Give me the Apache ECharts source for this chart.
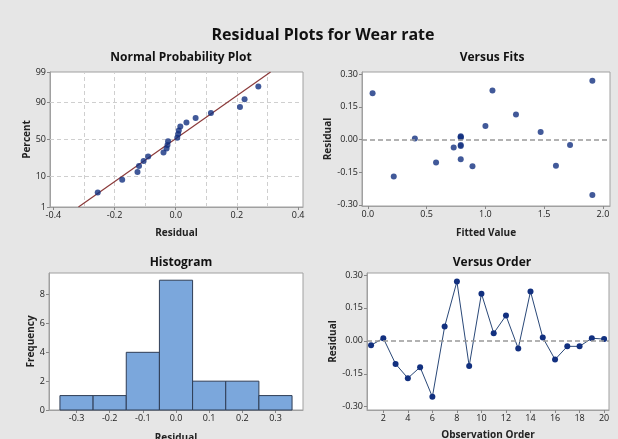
<!DOCTYPE html>
<html><head><meta charset="utf-8">
<script src="https://cdn.jsdelivr.net/npm/echarts@6/dist/echarts.min.js"></script>
<style>html,body{margin:0;padding:0;background:#e6e6e6}#c{width:618px;height:439px}</style>
</head><body><div id="c"></div>
<script>
// ---- data ----
var obsOrder = [1,2,3,4,5,6,7,8,9,10,11,12,13,14,15,16,17,18,19,20];
var residuals = [-0.02,0.012,-0.105,-0.17,-0.12,-0.255,0.065,0.27,-0.115,0.215,0.035,0.115,-0.035,0.225,0.015,-0.085,-0.025,-0.025,0.012,0.008];
var fitted = [0.79,0.79,0.58,0.22,1.60,1.91,1.00,1.91,0.89,0.04,1.47,1.26,0.73,1.06,0.79,0.79,0.79,1.72,0.40,0.79];
var fitsResid = [-0.025,0.012,-0.105,-0.17,-0.12,-0.255,0.062,0.27,-0.123,0.212,0.035,0.115,-0.037,0.225,0.015,-0.09,-0.03,-0.025,0.005,0.008];
var probX = [-0.255,-0.175,-0.125,-0.12,-0.105,-0.09,-0.04,-0.03,-0.027,-0.025,0.005,0.008,0.01,0.015,0.035,0.065,0.115,0.21,0.225,0.27];
var probPct = [3.4,8.3,13.2,18.1,23.0,27.9,32.8,37.7,42.6,47.5,52.5,57.4,62.3,67.2,72.1,77.0,81.9,86.8,91.7,96.6];
var fitLineX = [-0.318, 0.31];
var fitLinePct = [1, 99];
var pctTicks = [1,10,50,90,99];
var probXTicks = [-0.4,-0.2,0.0,0.2,0.4];
var probXGrid = [-0.3,-0.2,-0.1,0.0,0.1,0.2,0.3];
var pctGrid = [10,50,90];
var histCenters = [-0.3,-0.2,-0.1,0.0,0.1,0.2,0.3];
var histCounts = [1,1,4,9,2,2,1];
var histYTicks = [0,2,4,6,8];
var residTicks = [-0.30,-0.15,0.00,0.15,0.30];
var fitTicks = [0.0,0.5,1.0,1.5,2.0];
var orderTicks = [2,4,6,8,10,12,14,16,18,20];

// inverse standard normal CDF (probability-scale transform)
function probit(p){
  p = p/100;
  var a=[-3.969683028665376e+01,2.209460984245205e+02,-2.759285104469687e+02,1.383577518672690e+02,-3.066479806614716e+01,2.506628277459239e+00];
  var b=[-5.447609879822406e+01,1.615858368580409e+02,-1.556989798598866e+02,6.680131188771972e+01,-1.328068155288572e+01];
  var c=[-7.784894002430293e-03,-3.223964580411365e-01,-2.400758277161838e+00,-2.549732539343734e+00,4.374664141464968e+00,2.938163982698783e+00];
  var d=[7.784695709041462e-03,3.224671290700398e-01,2.445134137142996e+00,3.754408661907416e+00];
  var pl=0.02425,q,r;
  if(p<pl){q=Math.sqrt(-2*Math.log(p));return (((((c[0]*q+c[1])*q+c[2])*q+c[3])*q+c[4])*q+c[5])/((((d[0]*q+d[1])*q+d[2])*q+d[3])*q+1);}
  if(p>1-pl){q=Math.sqrt(-2*Math.log(1-p));return -(((((c[0]*q+c[1])*q+c[2])*q+c[3])*q+c[4])*q+c[5])/((((d[0]*q+d[1])*q+d[2])*q+d[3])*q+1);}
  q=p-0.5;r=q*q;
  return (((((a[0]*r+a[1])*r+a[2])*r+a[3])*r+a[4])*r+a[5])*q/(((((b[0]*r+b[1])*r+b[2])*r+b[3])*r+b[4])*r+1);
}

var FONT = '"Open Sans", "Noto Sans", sans-serif';
var labelStyle = {fontFamily: FONT, fontSize: 9, color: '#222'};
var nameStyle = {fontFamily: FONT, fontSize: 10, fontWeight: 'bold', color: '#222'};
var axisLine = {show: true, onZero: false, lineStyle: {color: '#a0a0a0'}};
var tick = function(vals){ return {show: true, length: 3, lineStyle:{color:'#888'}, customValues: vals}; };
var gridLineStyle = {color: '#cfcfcf', type: [4,3], width: 1};
var ptColor = '#12307f';

function makeAxis(gridIndex, min, max, ticks, fmt, name, gap, extra){
  var o = {
    type: 'value', gridIndex: gridIndex, min: min, max: max,
    axisLine: axisLine, axisTick: tick(ticks),
    axisLabel: Object.assign({customValues: ticks, formatter: fmt, margin: 4}, labelStyle),
    splitLine: {show: false},
    name: name, nameLocation: 'middle', nameGap: gap, nameTextStyle: nameStyle
  };
  return Object.assign(o, extra || {});
}

var chart = echarts.init(document.getElementById('c'), null, {renderer: 'canvas'});
var gridCommon = {show: true, backgroundColor: '#fff', borderColor: '#a0a0a0', borderWidth: 1, containLabel: false, outerBoundsMode: 'none'};

var probPoints = probX.map(function(x,i){ return [x, probit(probPct[i])]; });
var fitLine = fitLineX.map(function(x,i){ return [x, probit(fitLinePct[i])]; });
var probGridLines = probXGrid.map(function(v){ return {xAxis: v}; })
  .concat(pctGrid.map(function(v){ return {yAxis: probit(v)}; }));

var titleStyle = {fontFamily: FONT, fontSize: 12, fontWeight: 'bold', color: '#111'};
var option = {
  backgroundColor: '#e6e6e6',
  animation: false,
  title: [
    {text: 'Residual Plots for Wear rate', left: 318, textAlign: 'center', top: 22, textStyle: {fontFamily: FONT, fontSize: 16, fontWeight: 'bold', color: '#111'}},
    {text: 'Normal Probability Plot', left: 176, textAlign: 'center', top: 47, textStyle: titleStyle},
    {text: 'Versus Fits', left: 487, textAlign: 'center', top: 47, textStyle: titleStyle},
    {text: 'Histogram', left: 176, textAlign: 'center', top: 252, textStyle: titleStyle},
    {text: 'Versus Order', left: 487, textAlign: 'center', top: 252, textStyle: titleStyle}
  ],
  grid: [
    Object.assign({left: 50, top: 72, width: 253, height: 135}, gridCommon),
    Object.assign({left: 362, top: 72, width: 248, height: 134}, gridCommon),
    Object.assign({left: 49, top: 273, width: 254, height: 137}, gridCommon),
    Object.assign({left: 367, top: 273, width: 242, height: 137}, gridCommon)
  ],
  xAxis: [
    makeAxis(0, -0.411, 0.416, probXTicks, function(v){ return v.toFixed(1); }, 'Residual', 21),
    makeAxis(1, -0.05, 2.06, fitTicks, function(v){ return v.toFixed(1); }, 'Fitted Value', 22),
    makeAxis(2, -0.383, 0.383, histCenters, function(v){ return v.toFixed(1); }, 'Residual', 23),
    makeAxis(3, 0.67, 20.4, orderTicks, function(v){ return String(v); }, 'Observation Order', 20)
  ],
  yAxis: [
    makeAxis(0, probit(1), probit(99), pctTicks.map(probit), function(v){
      var best = 0, bd = 1e9;
      pctTicks.forEach(function(p,i){ var d = Math.abs(probit(p)-v); if(d<bd){bd=d;best=i;} });
      return String(pctTicks[best]);
    }, 'Percent', 18),
    makeAxis(1, -0.305, 0.31, residTicks, function(v){ return v.toFixed(2); }, 'Residual', 25),
    makeAxis(2, 0, 9.5, histYTicks, function(v){ return String(v); }, 'Frequency', 12),
    makeAxis(3, -0.315, 0.309, residTicks, function(v){ return v.toFixed(2); }, 'Residual', 28)
  ],
  series: [
    {type: 'line', xAxisIndex: 0, yAxisIndex: 0, data: fitLine, symbol: 'none', silent: true,
     lineStyle: {color: '#8b3a3a', width: 1.2}, z: 3,
     markLine: {silent: true, symbol: 'none', label: {show: false}, lineStyle: gridLineStyle, data: probGridLines, z: 1}},
    {type: 'scatter', xAxisIndex: 0, yAxisIndex: 0, data: probPoints, symbolSize: 6, itemStyle: {color: ptColor}, z: 4},
    {type: 'scatter', xAxisIndex: 1, yAxisIndex: 1, data: fitted.map(function(f,i){ return [f, fitsResid[i]]; }),
     symbolSize: 6, itemStyle: {color: ptColor}, z: 4,
     markLine: {silent: true, symbol: 'none', label: {show: false}, lineStyle: {color: '#999', type: [5,3], width: 1.5}, data: [{yAxis: 0}]}},
    {type: 'custom', xAxisIndex: 2, yAxisIndex: 2,
     data: histCenters.map(function(c,i){ return [c, histCounts[i]]; }),
     renderItem: function(params, api){
       var c = api.value(0), n = api.value(1);
       var p1 = api.coord([c-0.05, n]), p2 = api.coord([c+0.05, 0]);
       return {type: 'rect', shape: {x: p1[0], y: p1[1], width: p2[0]-p1[0], height: p2[1]-p1[1]},
               style: {fill: '#7ba7dc', stroke: '#2f3d55', lineWidth: 1}};
     }},
    {type: 'line', xAxisIndex: 3, yAxisIndex: 3, data: obsOrder.map(function(o,i){ return [o, residuals[i]]; }),
     symbol: 'circle', symbolSize: 6, itemStyle: {color: ptColor}, lineStyle: {color: '#2a4878', width: 1},
     markLine: {silent: true, symbol: 'none', label: {show: false}, lineStyle: {color: '#999', type: [5,3], width: 1.5}, data: [{yAxis: 0}]}}
  ]
};
chart.setOption(option);
</script>
</body></html>
